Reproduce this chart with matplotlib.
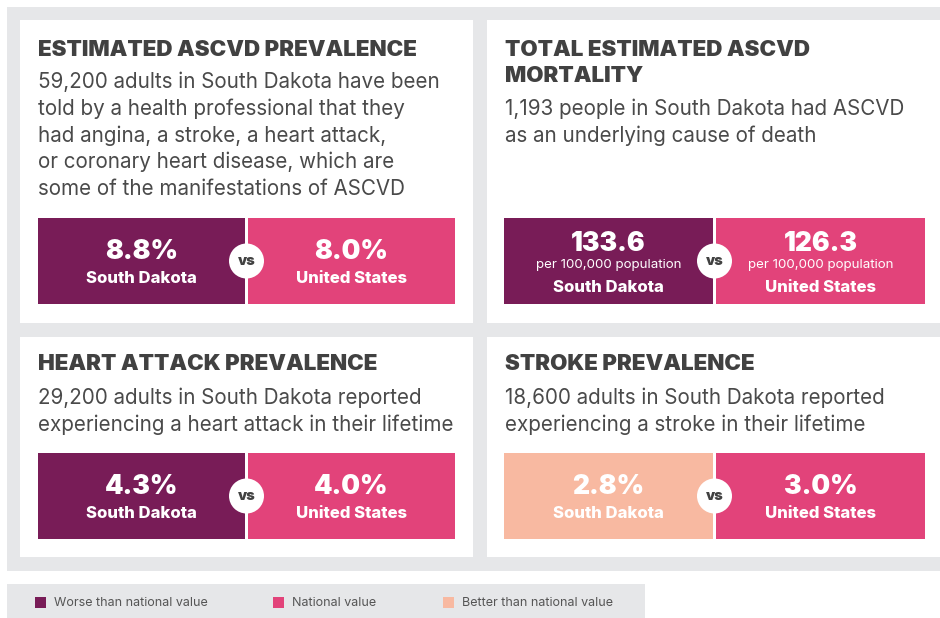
import matplotlib
matplotlib.use("Agg")
import matplotlib.pyplot as plt
from matplotlib.patches import Rectangle, Circle

plt.rcParams['font.family'] = ['Inter', 'DejaVu Sans']

# card content
titles = [["ESTIMATED ASCVD PREVALENCE"],
          ["TOTAL ESTIMATED ASCVD", "MORTALITY"],
          ["HEART ATTACK PREVALENCE"],
          ["STROKE PREVALENCE"]]
descs = [["59,200 adults in South Dakota have been",
          "told by a health professional that they",
          "had angina, a stroke, a heart attack,",
          "or coronary heart disease, which are",
          "some of the manifestations of ASCVD"],
         ["1,193 people in South Dakota had ASCVD",
          "as an underlying cause of death"],
         ["29,200 adults in South Dakota reported",
          "experiencing a heart attack in their lifetime"],
         ["18,600 adults in South Dakota reported",
          "experiencing a stroke in their lifetime"]]
sd_values = ["8.8%", "133.6", "4.3%", "2.8%"]
us_values = ["8.0%", "126.3", "4.0%", "3.0%"]
units = ["", "per 100,000 population", "", ""]
sd_status = ["worse", "worse", "worse", "better"]

legend_labels = ["Worse than national value", "National value", "Better than national value"]

PURPLE = "#781c57"
PINK = "#e2437a"
PEACH = "#f8b9a1"
GRAY = "#e6e7e9"
DARK = "#414141"
TEXT = "#4a4a4a"
status_color = {"worse": PURPLE, "national": PINK, "better": PEACH}

fig = plt.figure(figsize=(9.4, 6.18), dpi=100)
ax = fig.add_axes([0, 0, 1, 1])
ax.set_xlim(0, 940)
ax.set_ylim(618, 0)
ax.axis('off')

# grey frame
ax.add_patch(Rectangle((7, 7), 960, 564, color=GRAY, lw=0))

# card geometry: (x0, y0, width, height)
cards = [(20, 20, 453, 303), (487, 20, 480, 303),
         (20, 337, 453, 220), (487, 337, 480, 220)]
boxes = [(38, 218), (504, 218), (38, 453), (504, 453)]
box_w = [207, 209, 207, 209]
box_gap = 3
box_h = 86
title_base = [56, 56, 370, 370]
desc_base = [88, 115, 404, 404]

for i in range(4):
    cx, cy, cw, chh = cards[i]
    ax.add_patch(Rectangle((cx, cy), cw, chh, color="white", lw=0))
    tx = cx + 18
    for j, t in enumerate(titles[i]):
        ax.text(tx, title_base[i] + j * 26, t, fontsize=16.1, fontweight='black',
                color=DARK, va='baseline', ha='left')
    for j, t in enumerate(descs[i]):
        ax.text(tx, desc_base[i] + j * 26.8, t, fontsize=14.85, color=TEXT,
                va='baseline', ha='left')

    bx, by = boxes[i]
    w = box_w[i]
    left_c = status_color[sd_status[i]]
    ax.add_patch(Rectangle((bx, by), w, box_h, color=left_c, lw=0))
    ax.add_patch(Rectangle((bx + w + box_gap, by), w, box_h, color=PINK, lw=0))
    for k, (val, name) in enumerate([(sd_values[i], "South Dakota"),
                                      (us_values[i], "United States")]):
        mx = bx + w / 2 + k * (w + box_gap)
        if units[i]:
            ax.text(mx, by + 33, val, fontsize=19, fontweight='black', color='white',
                    ha='center', va='baseline')
            ax.text(mx, by + 50, units[i], fontsize=9.6, color='white',
                    ha='center', va='baseline')
            ax.text(mx, by + 74, name, fontsize=12, fontweight='heavy', color='white',
                    ha='center', va='baseline')
        else:
            ax.text(mx, by + 41, val, fontsize=19, fontweight='black', color='white',
                    ha='center', va='baseline')
            ax.text(mx, by + 65, name, fontsize=12, fontweight='heavy', color='white',
                    ha='center', va='baseline')
    vx = bx + w + box_gap / 2
    ax.add_patch(Circle((vx, by + 43), 17.5, color='white', lw=0))
    ax.text(vx, by + 43, "vs", fontsize=10.5, fontweight='black', color=DARK,
            ha='center', va='center')

# legend strip
ax.add_patch(Rectangle((7, 584), 638, 40, color=GRAY, lw=0))
leg_x = [35, 273, 443]
leg_c = [PURPLE, PINK, PEACH]
for x, c, lab in zip(leg_x, leg_c, legend_labels):
    ax.add_patch(Rectangle((x, 597), 11, 11, color=c, lw=0))
    ax.text(x + 19, 603, lab, fontsize=9, color="#555555", ha='left', va='center')

fig.savefig("out.png", dpi=100)
